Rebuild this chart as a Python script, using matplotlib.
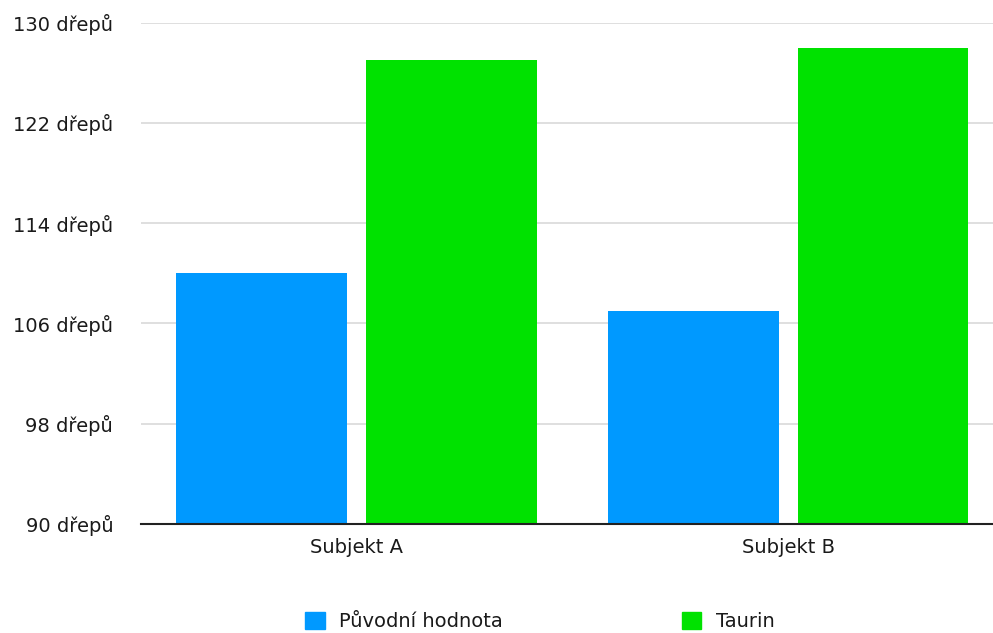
import numpy as np
import matplotlib
matplotlib.use('Agg')
import matplotlib.pyplot as plt
from matplotlib.patches import Patch

subjects = ['Subjekt A', 'Subjekt B']
puvodni = [110, 107]
taurin = [127, 128]
series_names = ['Původní hodnota', 'Taurin']
yticks = [90, 98, 106, 114, 122, 130]

blue = '#0099ff'
green = '#00e200'
txt = '#1a1a1a'

plt.rcParams['font.family'] = ['DejaVu Sans']

fig = plt.figure(figsize=(9.93, 6.33), dpi=100)
ax = fig.add_axes([141/993, 1 - 524/633, 1 - 141/993, (524 - 22.7)/633])

x = np.arange(len(subjects))
w = 0.396
ax.bar(x - 0.22, puvodni, width=w, color=blue, edgecolor='none', zorder=2,
       label=series_names[0])
ax.bar(x + 0.22, taurin, width=w, color=green, edgecolor='none', zorder=2,
       label=series_names[1])

ax.set_ylim(90, 130)
ax.set_xlim(-0.5, 1.475)
ax.set_yticks(yticks)
ax.set_yticklabels(['%d dřepů' % v for v in yticks], fontsize=14, color=txt)
ax.set_xticks(x)
ax.set_xticklabels(subjects, fontsize=14, color=txt)

ax.yaxis.grid(True, color='#d9d9d9', lw=1.2, zorder=0)
ax.set_axisbelow(True)
for s in ['top', 'right', 'left']:
    ax.spines[s].set_visible(False)
ax.spines['bottom'].set_color('#222222')
ax.spines['bottom'].set_linewidth(1.5)
ax.spines['bottom'].set_zorder(3)
ax.tick_params(axis='both', length=0)
ax.tick_params(axis='y', pad=20)
ax.tick_params(axis='x', pad=10)

handles = [Patch(color=blue), Patch(color=green)]
fig.legend(handles, series_names, loc='lower center', ncol=2,
           bbox_to_anchor=(540/993, -0.012), frameon=False, fontsize=14,
           handlelength=1.0, handleheight=1.0, handletextpad=0.75,
           columnspacing=9.2, borderpad=0, labelcolor=txt)

plt.savefig('out.png', dpi=100)
